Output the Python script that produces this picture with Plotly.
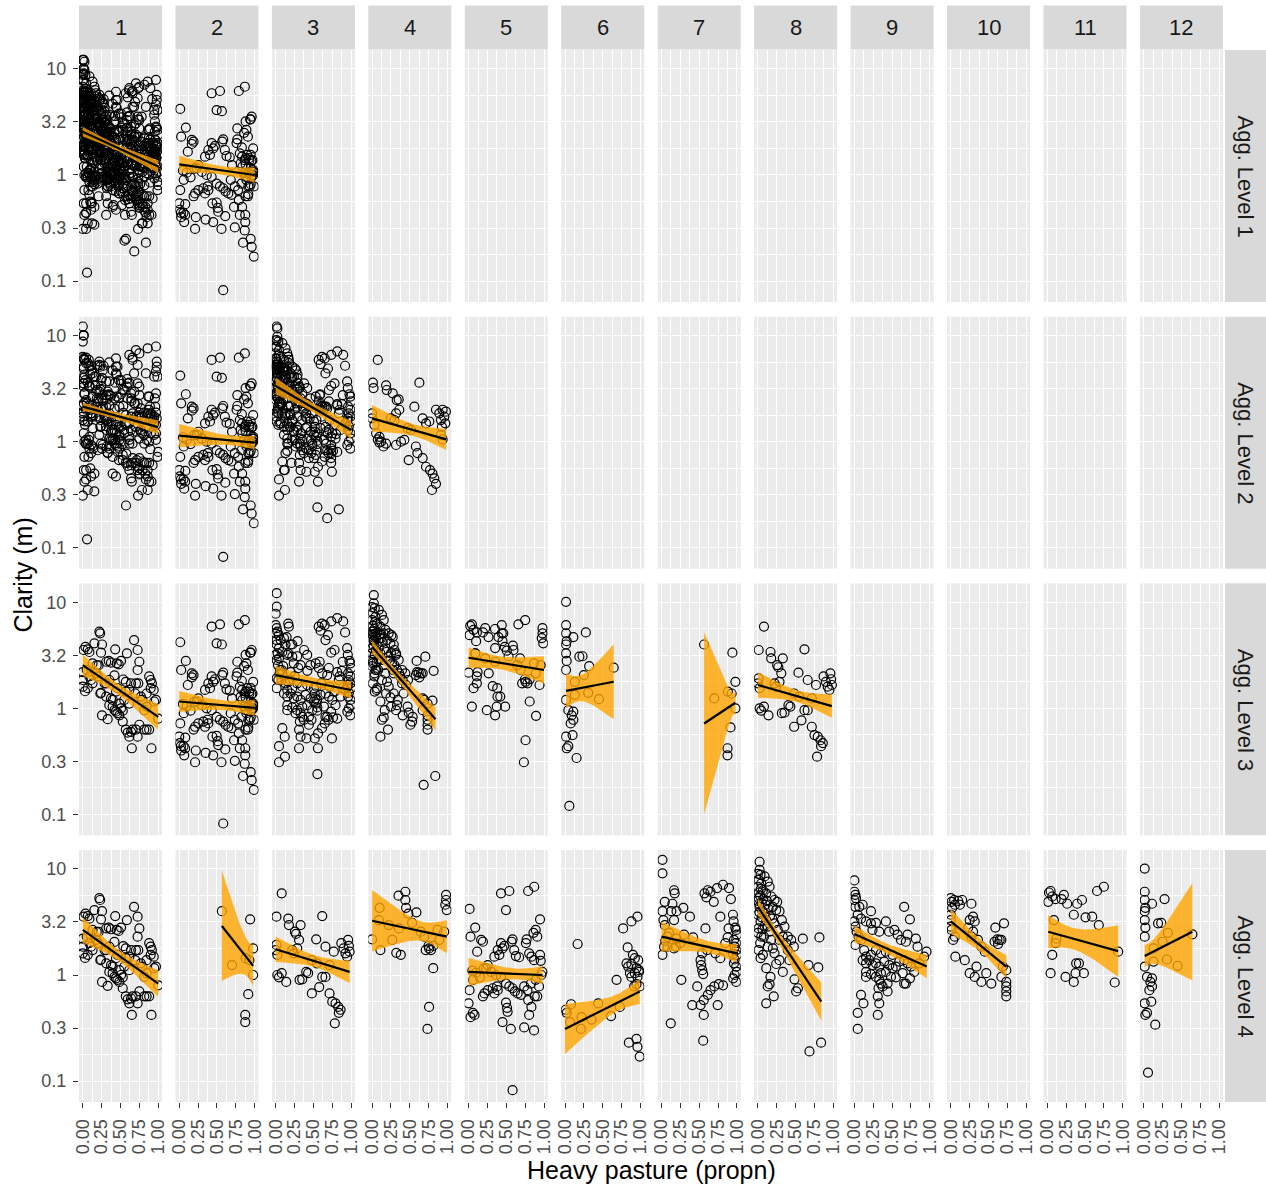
import numpy as np
import plotly.graph_objects as go

# ---------------------------------------------------------------------------
# Observations per level-4 group: (heavy pasture proportion, clarity in m)
# ---------------------------------------------------------------------------
G1 = [(0.22,5.3),(0.23,5.1),(0.154,4.1),(0.255,4.0),(0.035,3.8),(0.066,3.6),(0.088,3.4),(0.242,3.35),
      (0.43,3.6),(0.585,3.3),(0.68,4.4),(0.727,3.55),(0.507,2.8),(0.344,2.8),(0.374,2.7),(0.45,2.66),
      (0.476,2.6),(0.0,2.2),(0.0,1.85),(0.053,2.3),(0.066,1.55),(0.185,2.55),(0.21,2.55),(0.31,1.72),
      (0.29,1.72),(0.352,1.85),(0.537,1.87),(0.57,1.78),(0.42,2.05),(0.727,2.3),(0.75,2.75),(0.736,1.72),
      (0.88,2.0),(0.9,1.85),(0.916,1.72),(0.9,1.55),(0.94,1.49),(0.846,1.38),(0.97,1.2),(1.0,0.8),
      (0.242,1.4),(0.31,1.29),(0.352,1.07),(0.396,1.04),(0.42,0.96),(0.44,0.93),(0.46,0.9),(0.485,0.86),
      (0.507,1.0),(0.53,0.95),(0.485,1.11),(0.55,1.2),(0.374,1.24),(0.396,1.2),(0.255,0.86),(0.33,0.79),
      (0.53,0.75),(0.57,0.63),(0.595,0.59),(0.64,0.6),(0.66,0.63),(0.617,0.54),(0.65,0.42),(0.727,0.54),
      (0.75,0.7),(0.705,0.63),(0.815,0.63),(0.846,0.63),(0.88,0.63),(0.91,0.42),(0.77,1.29),(0.79,1.2),
      (0.815,0.96),(0.846,1.04),(0.947,1.16),(0.705,1.72),(0.696,1.38),(0.57,1.44),(0.617,1.49),(0.64,1.72),
      (0.617,1.11),(0.176,2.14),(0.2,2.0),(0.13,1.72),(0.11,1.85),(0.088,2.0),(0.13,2.66),(0.31,2.75),
      (0.44,1.44),(0.46,1.55),(0.233,1.38),(0.01,3.55),(0.0,1.6),(0.03,1.45)]

G2 = [(0.565,4.0),(0.70,1.24),(0.88,1.44),(0.94,3.35),(0.98,1.78),(0.98,1.0),(0.915,0.66),
      (0.875,0.42),(0.875,0.36),(0.93,1.38)]

G3 = [(0.08,5.9),(0.01,3.55),(0.167,3.4),(0.176,2.96),(0.33,2.96),(0.27,2.44),(0.255,2.56),(0.617,3.6),
      (0.537,2.17),(0.66,1.85),(0.01,1.92),(0.0,1.72),(0.022,1.55),(0.22,1.72),(0.286,1.78),(0.022,1.0),
      (0.044,0.95),(0.08,1.04),(0.14,0.86),(0.317,0.9),(0.352,0.91),(0.405,1.07),(0.43,1.04),(0.48,1.38),
      (0.546,1.29),(0.48,0.67),(0.577,0.77),(0.617,0.96),(0.714,0.67),(0.75,0.56),(0.793,0.54),(0.83,0.5),
      (0.837,0.44),(0.784,0.35),(0.86,0.47),(0.87,2.0),(0.9,1.78),(0.925,1.6),(0.947,1.49),(0.97,1.88),
      (0.98,1.66),(0.96,2.14),(0.77,1.66),(0.714,1.24),(0.66,0.96),(0.31,2.14),(0.24,1.6)]

G4 = [(0.0,2.17),(0.1,4.3),(0.11,1.72),(0.35,5.6),(0.44,6.1),(0.44,5.1),(0.45,4.3),(0.48,3.8),(0.587,3.9),
      (0.32,1.62),(0.38,1.55),(0.747,1.88),(0.755,1.78),(0.78,1.72),(0.71,1.72),(0.81,1.88),(0.81,1.16),
      (0.755,0.5),(0.733,0.31),(0.98,5.7),(0.98,5.1),(0.99,4.1),(0.97,4.6),(0.867,2.66),(0.955,2.56),
      (0.89,2.14),(0.09,3.3),(0.22,2.96),(0.355,2.75),(0.53,3.1),(0.644,2.56),(0.69,2.3),(0.267,2.14)]

G5 = [(0.013,4.2),(0.088,2.8),(0.026,2.3),(0.19,2.06),(0.167,2.14),(0.114,1.66),(0.43,5.9),(0.54,6.2),
      (0.496,4.1),(0.79,6.2),(0.87,6.8),(0.947,3.35),(0.89,2.66),(0.86,2.5),(0.91,2.3),(0.77,2.17),
      (0.76,2.0),(0.947,1.55),(0.956,1.36),(0.583,2.17),(0.57,2.06),(0.43,2.0),(0.474,1.88),(0.45,1.78),
      (0.386,1.72),(0.408,1.55),(0.342,1.49),(0.627,1.51),(0.67,1.47),(0.605,1.72),(0.803,1.6),(0.833,1.49),
      (0.868,1.38),(0.254,1.24),(0.232,1.16),(0.3,1.07),(0.364,1.0),(0.43,0.96),(0.496,0.83),(0.54,0.78),
      (0.583,0.75),(0.614,0.7),(0.65,0.67),(0.693,0.65),(0.737,0.78),(0.78,0.72),(0.825,0.83),(0.89,0.9),
      (0.934,0.78),(0.965,1.0),(0.978,1.07),(0.013,0.72),(0.0,0.54),(0.057,0.44),(0.026,0.4),(0.079,0.42),
      (0.21,0.67),(0.254,0.72),(0.377,0.78),(0.386,0.72),(0.496,0.55),(0.51,0.49),(0.517,0.45),(0.45,0.36),
      (0.56,0.31),(0.737,0.32),(0.868,0.3),(0.79,0.58),(0.833,0.5),(0.803,0.42),(0.877,0.63),(0.91,0.63),
      (0.583,0.082),(0.342,0.67),(0.32,0.75),(0.19,0.63),(0.05,1.1),(0.1,1.05),(0.15,0.95),(0.2,1.15),
      (0.06,0.9)]

G6 = [(0.022,0.44),(0.009,0.47),(0.08,0.53),(0.167,1.96),(0.066,0.36),(0.21,0.31),(0.22,0.4),(0.35,0.38),
      (0.44,0.54),(0.61,0.41),(0.727,0.5),(0.683,0.9),(0.77,2.75),(0.83,1.82),(0.88,3.2),(0.96,3.55),
      (0.9,1.55),(0.815,1.29),(0.837,1.2),(0.88,1.27),(0.925,1.44),(0.947,1.16),(0.97,1.38),(0.98,1.11),
      (0.86,1.04),(0.88,0.96),(0.925,1.04),(0.96,0.96),(0.99,0.78),(0.98,1.07),(0.846,0.23),(0.947,0.25),
      (0.96,0.21),(0.99,0.17),(0.916,0.78),(0.947,0.82)]

G7 = [(0.013,12.2),(0.013,9.1),(0.044,4.9),(0.026,3.3),(0.013,4.0),(0.167,6.3),(0.175,5.9),(0.145,4.7),
      (0.13,4.0),(0.2,4.0),(0.167,3.3),(0.29,4.3),(0.377,3.55),(0.044,2.96),(0.08,2.3),(0.035,1.85),
      (0.19,1.85),(0.013,1.55),(0.42,2.26),(0.57,5.9),(0.614,6.3),(0.65,6.1),(0.693,4.9),(0.596,5.4),
      (0.737,6.6),(0.816,7.1),(0.895,6.6),(0.78,3.55),(0.92,5.2),(0.947,3.7),(0.956,3.2),(0.978,2.8),
      (0.99,2.66),(1.0,2.4),(0.96,2.14),(0.99,2.0),(0.97,1.85),(0.99,1.72),(0.95,1.58),(1.0,1.55),
      (0.97,1.4),(0.96,1.29),(0.99,1.2),(1.0,1.07),(0.97,1.0),(0.95,0.93),(0.99,0.86),(0.89,2.75),
      (0.877,2.26),(0.846,2.0),(0.54,1.6),(0.518,1.38),(0.526,1.24),(0.54,1.11),(0.553,1.02),(0.605,1.72),
      (0.715,1.6),(0.78,1.44),(0.583,2.75),(0.263,0.9),(0.408,0.52),(0.474,0.78),(0.518,0.52),(0.561,0.58),
      (0.614,0.65),(0.65,0.72),(0.7,0.78),(0.76,0.82),(0.816,0.8),(0.56,0.42),(0.745,0.52),(0.123,0.35),
      (0.553,0.24),(0.08,1.85),(0.167,1.78),(0.05,2.1),(0.1,2.5),(0.2,2.2),(0.25,2.0),(0.3,2.4)]

G8 = [(0.022,11.7),(0.022,9.8),(0.035,8.8),(0.009,7.9),(0.044,7.3),(0.0,6.8),(0.088,8.5),(0.13,7.6),
      (0.066,6.3),(0.11,5.9),(0.154,6.8),(0.176,5.5),(0.22,5.1),(0.255,4.9),(0.198,4.4),(0.242,4.1),
      (0.286,4.0),(0.009,5.3),(0.022,4.4),(0.0,3.7),(0.035,3.2),(0.009,2.75),(0.044,2.3),(0.088,3.8),
      (0.11,3.3),(0.13,2.86),(0.154,2.56),(0.08,2.3),(0.176,2.14),(0.22,3.07),(0.264,2.66),(0.317,3.3),
      (0.352,2.86),(0.33,2.3),(0.286,2.14),(0.009,1.72),(0.035,1.44),(0.066,1.55),(0.13,1.85),(0.198,1.78),
      (0.22,1.6),(0.11,1.16),(0.167,0.96),(0.242,1.27),(0.286,1.38),(0.33,1.07),(0.396,1.72),(0.418,1.38),
      (0.13,0.78),(0.154,0.82),(0.21,0.63),(0.11,0.54),(0.485,0.91),(0.507,0.7),(0.53,0.75),(0.595,2.2),
      (0.67,1.24),(0.815,2.26),(0.8,1.18),(0.683,0.19),(0.837,0.23),(0.396,2.3),(0.44,2.14),(0.374,2.0),
      (0.476,1.85),(0.0,5.0),(0.01,6.0),(0.03,5.6),(0.05,4.8),(0.06,4.0),(0.015,4.7),(0.04,6.5),(0.0,9.0),
      (0.02,3.9),(0.07,5.2),(0.1,4.6),(0.12,5.0),(0.14,4.2),(0.05,3.5),(0.09,2.9),(0.0,2.5),(0.03,2.0),
      (0.06,2.7),(0.16,3.6),(0.19,3.4)]

G9 = [(0.0,7.8),(0.0,6.1),(0.013,5.7),(0.022,5.3),(0.0,5.1),(0.013,4.4),(0.0,3.2),(0.066,4.4),(0.11,4.6),
      (0.22,4.0),(0.044,3.7),(0.088,3.4),(0.154,3.2),(0.22,3.07),(0.286,3.1),(0.418,3.2),(0.66,4.4),
      (0.736,3.35),(0.013,2.86),(0.03,2.56),(0.057,2.3),(0.088,2.14),(0.013,1.92),(0.24,2.66),(0.33,2.56),
      (0.46,2.56),(0.53,2.66),(0.573,2.4),(0.617,2.14),(0.683,2.06),(0.815,2.2),(0.837,1.85),(0.705,2.4),
      (0.13,1.72),(0.154,1.49),(0.22,1.55),(0.286,1.72),(0.352,1.6),(0.418,1.66),(0.507,1.55),(0.11,1.38),
      (0.154,1.29),(0.198,1.38),(0.242,1.24),(0.286,1.29),(0.33,1.2),(0.396,1.34),(0.463,1.24),(0.507,1.16),
      (0.55,1.2),(0.595,1.34),(0.66,1.38),(0.705,1.29),(0.75,1.2),(0.793,1.07),(0.86,1.29),(0.925,1.49),
      (0.956,1.66),(0.154,1.07),(0.22,1.02),(0.286,0.96),(0.352,1.04),(0.418,1.07),(0.485,0.96),(0.55,0.95),
      (0.64,1.04),(0.683,0.83),(0.154,0.96),(0.33,0.9),(0.352,0.83),(0.374,0.78),(0.44,0.83),(0.44,0.7),
      (0.32,0.75),(0.31,0.63),(0.33,0.54),(0.31,0.42),(0.088,0.65),(0.12,0.54),(0.044,0.44),(0.044,0.31),
      (0.66,0.83),(0.736,0.93)]

G10 = [(0.0,5.3),(0.01,4.9),(0.044,5.1),(0.097,5.0),(0.15,5.1),(0.12,4.6),(0.053,4.6),(0.018,4.3),
       (0.273,4.7),(0.0,3.7),(0.0,3.3),(0.0,2.86),(0.01,2.66),(0.053,2.3),(0.06,1.49),(0.03,2.14),
       (0.25,3.3),(0.295,3.55),(0.317,3.2),(0.23,2.8),(0.273,2.3),(0.295,2.56),(0.36,2.14),(0.405,1.85),
       (0.45,1.66),(0.59,2.8),(0.617,2.17),(0.648,2.14),(0.67,2.14),(0.705,3.07),(0.626,1.96),(0.58,2.06),
       (0.25,1.04),(0.317,0.96),(0.405,0.86),(0.47,1.04),(0.537,0.83),(0.67,0.96),(0.735,1.11),(0.735,0.86),
       (0.735,0.78),(0.735,0.7),(0.735,0.63),(0.69,1.2),(0.34,1.2),(0.185,1.38)]

G11 = [(0.022,6.0),(0.044,6.2),(0.066,5.5),(0.013,4.9),(0.11,5.2),(0.19,5.2),(0.22,5.7),(0.264,4.7),
       (0.396,4.7),(0.46,5.1),(0.66,6.2),(0.75,6.8),(0.352,3.7),(0.507,3.5),(0.595,3.55),(0.683,2.96),
       (0.088,3.3),(0.11,2.0),(0.066,1.55),(0.044,1.04),(0.242,0.96),(0.352,0.86),(0.383,1.29),(0.42,1.29),
       (0.374,1.04),(0.485,1.04),(0.12,2.2),(0.894,0.85),(0.94,1.66)]

G12 = [(0.013,10.1),(0.013,6.1),(0.013,5.1),(0.022,4.3),(0.013,4.0),(0.013,3.3),(0.022,2.8),(0.013,2.3),
       (0.11,4.7),(0.19,3.07),(0.232,3.1),(0.276,5.2),(0.32,2.5),(0.25,2.06),(0.13,1.78),(0.13,1.34),
       (0.307,1.4),(0.45,1.22),(0.645,2.42),(0.013,1.2),(0.044,0.96),(0.11,0.93),(0.088,0.86),(0.11,0.78),
       (0.075,0.72),(0.013,0.54),(0.1,0.56),(0.044,0.44),(0.022,0.42),(0.153,0.34),(0.057,0.12)]

# sites that only form their own group at aggregation levels 1-2
L2_1 = [(0.0,12.2),(0.01,10.0),(0.0,8.8),(0.0,6.3),(0.02,5.9),(0.044,5.5),(0.088,5.1),(0.13,4.4),
        (0.176,4.1),(0.242,3.8),(0.31,3.7),(0.617,6.6),(0.705,7.3),(0.86,7.6),(0.97,7.9),(0.66,5.9),
        (0.727,5.3),(0.837,4.4),(0.947,4.1),(0.44,4.4),(0.507,3.8),
        (0.044,2.0),(0.11,1.85),(0.176,1.72),(0.242,2.0),(0.31,1.6),(0.374,1.44),(0.44,1.55),(0.507,1.38),
        (0.573,1.49),(0.64,1.29),(0.705,1.38),(0.77,1.24),(0.837,1.34),(0.903,1.2),(0.97,1.44),
        (0.066,0.96),(0.13,0.9),(0.2,0.83),(0.264,0.93),(0.33,0.78),(0.396,0.72),(0.463,0.8),(0.53,0.67),
        (0.595,0.63),(0.66,0.7),(0.727,0.58),(0.793,0.65),(0.86,0.54),(0.925,0.6),(0.99,0.72),
        (0.022,0.72),(0.044,0.54),(0.11,0.47),(0.154,0.5),(0.396,0.5),(0.44,0.47),(0.64,0.45),(0.75,0.49),
        (0.88,0.42),(0.0,0.31),(0.066,0.35),(0.573,0.25),(0.86,0.35),
        (0.022,2.86),(0.044,2.47),(0.088,2.2),(0.13,2.66),(0.2,2.4),(0.264,2.75),(0.352,2.2),(0.42,2.56),
        (0.485,2.14),(0.595,2.56),(0.683,2.3),(0.77,2.06),(0.86,1.85),(0.947,1.72),
        (0.55,3.07),(0.64,2.86),(0.75,3.3),(0.88,2.66),(0.97,2.86),
        (0.088,1.11),(0.22,1.16),(0.352,1.07),(0.485,1.16),(0.617,1.04),(0.75,1.07),(0.88,1.0),(0.97,1.04)]

# sites that only form their own group at aggregation level 2 (column 4)
L2_4 = [(0.075,5.9),(0.01,3.6),(0.018,3.2),(0.185,3.4),(0.194,3.07),(0.273,2.86),(0.326,2.47),(0.352,2.5),
        (0.626,3.6),(0.56,2.14),(0.36,2.0),(0.295,1.6),(0.25,1.66),(0.317,1.85),(0.0,1.85),(0.0,1.66),
        (0.03,1.44),(0.053,1.2),(0.097,1.11),(0.12,1.0),(0.15,0.9),(0.185,0.96),(0.075,1.05),(0.097,0.98),
        (0.317,0.93),(0.383,1.0),(0.427,1.04),(0.47,1.34),(0.515,1.29),(0.67,1.66),(0.714,1.49),(0.758,1.55),
        (0.58,0.9),(0.6,0.78),(0.485,0.67),(0.67,0.7),(0.714,0.58),(0.767,0.54),(0.8,0.5),(0.824,0.45),
        (0.846,0.4),(0.793,0.35),(0.846,2.0),(0.89,1.85),(0.934,2.0),(0.956,1.72),(0.978,1.92),(0.912,1.6),
        (0.97,1.49),(0.925,1.38),(0.912,1.16),(0.934,1.05)]

GROUPS = {"G1": G1, "G2": G2, "G3": G3, "G4": G4, "G5": G5, "G6": G6, "G7": G7, "G8": G8,
          "G9": G9, "G10": G10, "G11": G11, "G12": G12, "L2_1": L2_1, "L2_4": L2_4}

# Which groups make up each facet column at every aggregation level
LEVEL1 = [["G1", "G3", "G4", "G11", "G12", "L2_1", "G7", "G8", "G9", "G10", "L2_4"], ["G2", "G5", "G6"]]
LEVEL2 = [["G1", "G3", "G4", "G11", "G12", "L2_1"], ["G2", "G5", "G6"], ["G7", "G8", "G9", "G10"], ["L2_4"]]
LEVEL3 = [["G1"], ["G2", "G5", "G6"], ["G7", "G9"], ["G8", "G10"], ["G4", "G11"], ["G12"], ["G2"], ["G3"]]
LEVEL4 = [["G1"], ["G2"], ["G3"], ["G4"], ["G5"], ["G6"], ["G7"], ["G8"], ["G9"], ["G10"], ["G11"], ["G12"]]
LEVELS = [LEVEL1, LEVEL2, LEVEL3, LEVEL4]

ROW_LABELS = ["Agg. Level 1", "Agg. Level 2", "Agg. Level 3", "Agg. Level 4"]
COL_LABELS = ["1", "2", "3", "4", "5", "6", "7", "8", "9", "10", "11", "12"]

# Fitted log-linear trends: panel (level, column), x extent, fitted clarity at both ends,
# and half-width of the 95% band (log10 units) at the left end, right end and narrowest point
FIT_PANEL = [(1,1),(1,2),(2,1),(2,2),(2,3),(2,4),(3,1),(3,2),(3,3),(3,4),(3,5),(3,6),(3,7),(3,8),
             (4,1),(4,2),(4,3),(4,4),(4,5),(4,6),(4,7),(4,8),(4,9),(4,10),(4,11),(4,12)]
FIT_X0 = [0.0,0.0,0.0,0.0,0.0,0.0,0.0,0.0,0.0,0.0,0.0,0.013,0.565,0.0,
          0.0,0.565,0.0,0.0,0.0,0.0,0.0,0.0,0.0,0.0,0.013,0.013]
FIT_X1 = [1.0,1.0,1.0,1.0,1.0,0.98,1.0,1.0,1.0,0.84,1.0,0.645,0.98,0.98,
          1.0,0.98,0.98,0.99,0.98,0.99,1.0,0.84,0.96,0.735,0.94,0.645]
FIT_Y0 = [2.56,1.26,2.14,1.14,3.35,1.66,2.56,1.16,2.06,3.8,3.0,1.46,0.72,1.66,
          2.66,2.9,1.75,3.25,1.07,0.31,2.3,4.4,2.44,3.2,2.56,1.51]
FIT_Y1 = [1.2,1.0,1.37,0.98,1.29,1.05,0.83,1.01,1.49,0.79,2.3,1.78,1.13,1.05,
          0.83,1.22,1.07,2.3,1.0,0.70,1.6,0.56,1.2,1.2,1.68,2.56]
FIT_W0 = [0.045,0.08,0.04,0.11,0.08,0.126,0.10,0.10,0.087,0.063,0.097,0.165,0.86,0.12,
          0.12,0.52,0.12,0.29,0.13,0.236,0.14,0.08,0.08,0.118,0.157,0.105]
FIT_W1 = [0.06,0.07,0.066,0.063,0.086,0.10,0.12,0.075,0.08,0.11,0.13,0.354,0.11,0.11,
          0.126,0.19,0.105,0.157,0.082,0.118,0.087,0.18,0.11,0.11,0.245,0.46]
FIT_WMIN = [0.028,0.04,0.03,0.045,0.04,0.055,0.05,0.045,0.045,0.04,0.06,0.12,0.10,0.055,
            0.05,0.17,0.055,0.09,0.05,0.08,0.055,0.05,0.045,0.06,0.10,0.10]

# ---------------------------------------------------------------------------
# Page geometry (pixels)
# ---------------------------------------------------------------------------
W, H = 1266, 1187
PANEL_LEFT0, PANEL_PITCH_X, PANEL_W = 79.0, 96.45, 83.0
PANEL_TOP0, PANEL_PITCH_Y, PANEL_H = 50.0, 266.67, 252.0
NROW, NCOL = 4, 12

FONT = "Liberation Sans, Arial, sans-serif"
TICK_FONT = dict(family=FONT, size=18, color="#4D4D4D")
PANEL_BG = "#EBEBEB"
STRIP_BG = "#D9D9D9"
RIBBON = "rgba(255,165,0,0.8)"

Y_RANGE = [-1.198, 1.179]
Y_TICKS = [0.1, 10 ** -0.5, 1, 10 ** 0.5, 10]
Y_TICKTEXT = ["0.1", "0.3", "1", "3.2", "10"]
Y_MINOR = [10 ** -0.75, 10 ** -0.25, 10 ** 0.25, 10 ** 0.75]
X_TICKS = [0, 0.25, 0.5, 0.75, 1.0]
X_TICKTEXT = ["0.00", "0.25", "0.50", "0.75", "1.00"]
X_MINOR = [0.125, 0.375, 0.625, 0.875]


def px_x(p):
    return p / W


def px_y(p):
    return 1 - p / H


def axis_names(k):
    s = "" if k == 1 else str(k)
    return "xaxis" + s, "yaxis" + s, "x" + s, "y" + s


def band(x0, x1, y0, y1, w0, w1, wmin, n=80):
    """Fitted line in log10 space with a hyperbolic confidence band."""
    xs = np.linspace(x0, x1, n)
    l0, l1 = np.log10(y0), np.log10(y1)
    ly = l0 + (l1 - l0) * (xs - x0) / (x1 - x0)
    a = np.sqrt(max(w0 ** 2 - wmin ** 2, 0.0))
    b = np.sqrt(max(w1 ** 2 - wmin ** 2, 0.0))
    s = (a + b) / (x1 - x0)
    xc = x0 + (a / s if s > 0 else 0.0)
    w = np.sqrt(wmin ** 2 + (s * (xs - xc)) ** 2)
    return xs, 10 ** (ly + w), 10 ** (ly - w)


fig = go.Figure()
layout = {}

for r in range(NROW):
    for c in range(NCOL):
        k = r * NCOL + c + 1
        xa, ya, xr, yr = axis_names(k)
        left = PANEL_LEFT0 + c * PANEL_PITCH_X
        top = PANEL_TOP0 + r * PANEL_PITCH_Y
        bottom_row = r == NROW - 1
        first_col = c == 0
        layout[xa] = dict(
            domain=[px_x(left), px_x(left + PANEL_W)], anchor=yr, range=[-0.05, 1.05],
            tickmode="array", tickvals=X_TICKS, ticktext=X_TICKTEXT,
            showticklabels=bottom_row, ticks="outside" if bottom_row else "",
            ticklen=5, tickwidth=1.1, tickcolor="#333333", tickangle=-90, tickfont=TICK_FONT,
            ticklabelstandoff=4, automargin=False,
            showgrid=True, gridcolor="white", gridwidth=1.3, zeroline=False, showline=False,
            minor=dict(tickmode="array", tickvals=X_MINOR, showgrid=True, gridcolor="white",
                       gridwidth=0.65, ticks=""),
            fixedrange=True,
        )
        layout[ya] = dict(
            domain=[px_y(top + PANEL_H), px_y(top)], anchor=xr, type="log", range=Y_RANGE,
            tickmode="array", tickvals=Y_TICKS, ticktext=Y_TICKTEXT,
            showticklabels=first_col, ticks="outside" if first_col else "",
            ticklen=5, tickwidth=1.1, tickcolor="#333333", tickfont=TICK_FONT,
            ticklabelstandoff=3, automargin=False,
            showgrid=True, gridcolor="white", gridwidth=1.3, zeroline=False, showline=False,
            minor=dict(tickmode="array", tickvals=Y_MINOR, showgrid=True, gridcolor="white",
                       gridwidth=0.65, ticks=""),
            fixedrange=True,
        )
        # an empty trace so that every facet gets its panel background and grid
        fig.add_trace(go.Scatter(x=[None], y=[None], mode="markers", xaxis=xr, yaxis=yr,
                                 showlegend=False, hoverinfo="skip"))

# Scatter points per facet
for r, level in enumerate(LEVELS):
    for c, members in enumerate(level):
        k = r * NCOL + c + 1
        _, _, xr, yr = axis_names(k)
        pts = [p for g in members for p in GROUPS[g]]
        xs = [p[0] for p in pts]
        ys = [p[1] for p in pts]
        fig.add_trace(go.Scatter(
            x=xs, y=ys, mode="markers", xaxis=xr, yaxis=yr, showlegend=False, hoverinfo="skip",
            marker=dict(symbol="circle-open", size=9, color="black", line=dict(width=1.2)),
        ))

# Fitted trends with confidence ribbons
for i, (lev, col) in enumerate(FIT_PANEL):
    k = (lev - 1) * NCOL + col
    _, _, xr, yr = axis_names(k)
    xs, up, lo = band(FIT_X0[i], FIT_X1[i], FIT_Y0[i], FIT_Y1[i], FIT_W0[i], FIT_W1[i], FIT_WMIN[i])
    fig.add_trace(go.Scatter(
        x=np.concatenate([xs, xs[::-1]]), y=np.concatenate([up, lo[::-1]]),
        mode="lines", fill="toself", fillcolor=RIBBON, line=dict(width=0, color=RIBBON),
        xaxis=xr, yaxis=yr, showlegend=False, hoverinfo="skip",
    ))
    fig.add_trace(go.Scatter(
        x=[FIT_X0[i], FIT_X1[i]], y=[FIT_Y0[i], FIT_Y1[i]], mode="lines",
        line=dict(color="black", width=2.2), xaxis=xr, yaxis=yr, showlegend=False, hoverinfo="skip",
    ))

# Facet strips
shapes = []
annotations = []
for c in range(NCOL):
    left = PANEL_LEFT0 + c * PANEL_PITCH_X
    shapes.append(dict(type="rect", xref="paper", yref="paper",
                       x0=px_x(left), x1=px_x(left + PANEL_W), y0=px_y(49.5), y1=px_y(5.5),
                       fillcolor=STRIP_BG, line=dict(width=0), layer="below"))
    annotations.append(dict(text=COL_LABELS[c], xref="paper", yref="paper",
                            x=px_x(left + PANEL_W / 2), y=px_y(27.5), xanchor="center", yanchor="middle",
                            showarrow=False, font=dict(family=FONT, size=22, color="#1A1A1A")))
for r in range(NROW):
    top = PANEL_TOP0 + r * PANEL_PITCH_Y
    shapes.append(dict(type="rect", xref="paper", yref="paper",
                       x0=px_x(1225), x1=px_x(1266), y0=px_y(top + PANEL_H), y1=px_y(top),
                       fillcolor=STRIP_BG, line=dict(width=0), layer="below"))
    annotations.append(dict(text=ROW_LABELS[r], xref="paper", yref="paper",
                            x=px_x(1245.5), y=px_y(top + PANEL_H / 2), xanchor="center", yanchor="middle",
                            textangle=90, showarrow=False,
                            font=dict(family=FONT, size=22, color="#1A1A1A")))

# Axis titles
annotations.append(dict(text="Heavy pasture (propn)", xref="paper", yref="paper",
                        x=px_x(651.5), y=px_y(1170), xanchor="center", yanchor="middle",
                        showarrow=False, font=dict(family=FONT, size=25, color="black")))
annotations.append(dict(text="Clarity (m)", xref="paper", yref="paper",
                        x=px_x(22), y=px_y(575.5), xanchor="center", yanchor="middle",
                        textangle=-90, showarrow=False, font=dict(family=FONT, size=25, color="black")))

fig.update_layout(
    width=W, height=H, autosize=False,
    margin=dict(l=0, r=0, t=0, b=0, pad=0, autoexpand=False),
    paper_bgcolor="white", plot_bgcolor=PANEL_BG,
    shapes=shapes, annotations=annotations, showlegend=False,
    **layout,
)

fig.write_html("out.html", config={"displayModeBar": False, "responsive": False})
